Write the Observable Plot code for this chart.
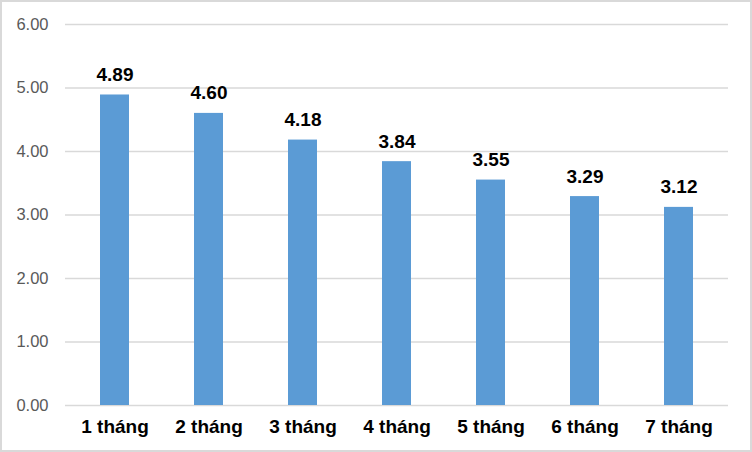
<!DOCTYPE html>
<html>
<head>
<meta charset="utf-8">
<script src="https://cdn.jsdelivr.net/npm/d3@7"></script>
<script src="https://cdn.jsdelivr.net/npm/@observablehq/plot@0.6"></script>
<style>
  html, body { margin: 0; padding: 0; background: #fff; }
  #chart svg { display: block; outline: 2px solid #d9d9d9; outline-offset: -2px; }
</style>
</head>
<body>
<div id="chart"></div>
<script>
const categories = ["1 tháng", "2 tháng", "3 tháng", "4 tháng", "5 tháng", "6 tháng", "7 tháng"];
const values = [4.89, 4.60, 4.18, 3.84, 3.55, 3.29, 3.12];
const yTicks = [0, 1, 2, 3, 4, 5, 6];

const data = categories.map((c, i) => ({ category: c, value: values[i] }));

const chart = Plot.plot({
  width: 752,
  height: 452,
  marginLeft: 65,
  marginRight: 24,
  marginTop: 24,
  marginBottom: 47,
  style: { fontFamily: "'Liberation Sans', Arial, sans-serif", background: "#fff" },
  x: { domain: categories, paddingInner: 0.69, paddingOuter: 0.345, label: null },
  y: { domain: [0, 6], label: null },
  marks: [
    Plot.ruleY(yTicks, { stroke: "#d9d9d9", strokeWidth: 1.6 }),
    Plot.barY(data, { x: "category", y: "value", fill: "#5b9bd5" }),
    Plot.text(data, {
      x: "category", y: "value", text: d => d.value.toFixed(2),
      dy: -20, fontSize: 19, fontWeight: "bold", fill: "#000"
    }),
    Plot.axisX({ tickSize: 0, tickPadding: 14, fontSize: 19, fontWeight: "bold", color: "#000", label: null }),
    Plot.axisY({ ticks: yTicks, tickFormat: d => d.toFixed(2), tickSize: 0, tickPadding: 17, fontSize: 16.5, color: "#595959", label: null })
  ]
});
document.getElementById("chart").appendChild(chart);
</script>
</body>
</html>
